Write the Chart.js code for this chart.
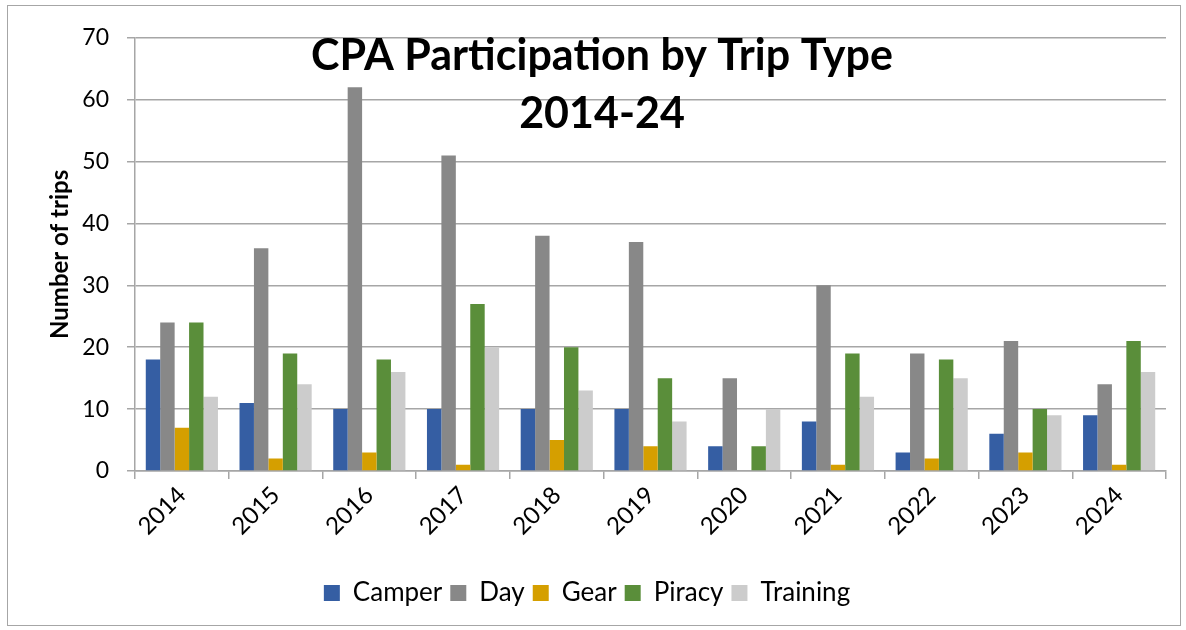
<!DOCTYPE html>
<html>
<head>
<meta charset="utf-8">
<script src="https://cdn.jsdelivr.net/npm/chart.js@4"></script>
<style>
  body { margin: 0; background: #fff; }
  #wrap { position: absolute; left: 7px; top: 5px; width: 1172px; height: 619px; border: 1.5px solid #a6a6a6; }
</style>
</head>
<body>
<div id="wrap"><canvas id="myChart" width="1172" height="619"></canvas></div>
<script>
// values
const years = ["2014", "2015", "2016", "2017", "2018", "2019", "2020", "2021", "2022", "2023", "2024"];
const camper = [18, 11, 10, 10, 10, 10, 4, 8, 3, 6, 9];
const day = [24, 36, 62, 51, 38, 37, 15, 30, 19, 21, 14];
const gear = [7, 2, 3, 1, 5, 4, 0, 1, 2, 3, 1];
const piracy = [24, 19, 18, 27, 20, 15, 4, 19, 18, 10, 21];
const training = [12, 14, 16, 20, 13, 8, 10, 12, 15, 9, 16];
const yTicks = [0, 10, 20, 30, 40, 50, 60, 70];

const FONT = "Lato, 'Open Sans', sans-serif";
const gridGray = "#a6a6a6";

// title sits inside the plot area, like the original
const titlePlugin = {
    id: "innerTitle",
    afterDraw(chart) {
        const ctx = chart.ctx;
        ctx.save();
        ctx.font = "bold 43px " + FONT;
        ctx.fillStyle = "#000";
        ctx.textAlign = "center";
        ctx.textBaseline = "middle";
        ctx.fillText("CPA Participation by Trip Type", 594, 50);
        ctx.fillText("2014-24", 594, 108);
        ctx.restore();
    }
};

function makeSet(label, data, color){
    return {
        label: label,
        data: data,
        backgroundColor: color,
        borderWidth: 0,
        categoryPercentage: 0.77,
        barPercentage: 1.0
    };
}

const ctx = document.getElementById("myChart");
new Chart(ctx, {
    type: "bar",
    data: {
        labels: years,
        datasets: [
            makeSet("Camper", camper, "#355ea3"),
            makeSet("Day", day, "#888888"),
            makeSet("Gear", gear, "#d59f00"),
            makeSet("Piracy", piracy, "#5a8e3a"),
            makeSet("Training", training, "#cccccc")
        ]
    },
    options: {
        responsive: false,
        animation: false,
        layout: { padding: { top: 30, right: 14, bottom: 9, left: 0 } },
        plugins: {
            legend: {
                position: "bottom",
                labels: {
                    boxWidth: 16,
                    boxHeight: 16,
                    padding: 8,
                    color: "#000",
                    font: { family: FONT, size: 26 }
                }
            },
            tooltip: { enabled: false }
        },
        scales: {
            x: {
                offset: true,
                grid: { display: true, drawOnChartArea: false, drawTicks: true, tickLength: 8, color: gridGray, lineWidth: 1.5, offset: true },
                border: { color: gridGray, width: 1.5 },
                ticks: { color: "#000", font: { family: FONT, size: 24 }, minRotation: 45, maxRotation: 45, padding: 2 },
                afterFit(scale){ scale.height = 101; }
            },
            y: {
                min: 0,
                max: 70,
                afterBuildTicks(scale){ scale.ticks = yTicks.map(v => ({ value: v })); },
                grid: { color: gridGray, lineWidth: 1.5, tickLength: 8 },
                border: { color: gridGray, width: 1.5 },
                ticks: { color: "#000", font: { family: FONT, size: 23 }, padding: 18 },
                title: { display: true, text: "Number of trips", color: "#000", font: { family: FONT, size: 24, weight: "bold" }, padding: { top: 38, bottom: 0 } },
                afterFit(scale){ scale.width = 127; }
            }
        }
    },
    plugins: [titlePlugin]
});
</script>
</body>
</html>
